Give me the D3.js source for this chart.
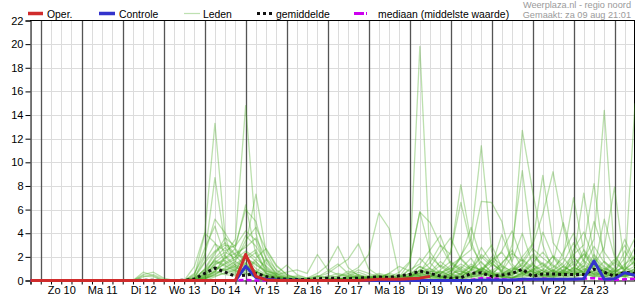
<!DOCTYPE html>
<html><head><meta charset="utf-8">
<script src="https://cdn.jsdelivr.net/npm/d3@7"></script>
<style>
html,body{margin:0;padding:0;background:#fff;}
svg{display:block;font-family:"Liberation Sans",Arial,sans-serif;}
</style></head><body>
<svg id="chart" width="635" height="300"></svg>
<script>
// ---- data ----
const startTime = "2025-08-09T18:00:00Z";
const endTime = "2025-08-24T12:00:00Z";
const stepHours = 6;
const dayLabels = ["Zo 10","Ma 11","Di 12","Wo 13","Do 14","Vr 15","Za 16","Zo 17","Ma 18","Di 19","Wo 20","Do 21","Vr 22","Za 23"];
const yTicks = [0,2,4,6,8,10,12,14,16,18,20,22];
const headerLines = ["Weerplaza.nl - regio noord","Gemaakt: za 09 aug 21:01"];
const legendLabels = ["Oper.","Controle","Leden","gemiddelde","mediaan (middelste waarde)"];

const oper = [
0,0,0,0,0,0,0,0,0,0,
0,0,0,0,0,0,0,0,0,0,
0,2.2,0.35,0.05,0,0,0,0,0,0,
0,0,0,0.05,0.1,0.1,0.1,0.15,0.2,0.35];

const controle = [
0,0,0,0,0,0,0,0,0,0,
0,0,0,0,0,0,0,0,0,0,
0,1.2,0.25,0.1,0.05,0.03,0.02,0,0,0,
0,0,0,0,0,0,0,0,0,0,
0,0,0,0,0.05,0.05,0.05,0.05,0.1,0.1,
0.1,0.1,0.1,0.1,0.15,1.65,0.1,0.15,0.65,0.45];

const gemiddelde = [
0,0,0,0,0,0,0,0,0,0,
0,0.03,0.02,0,0,0.02,0.12,0.6,1.05,0.7,
0.35,0.45,0.6,0.35,0.15,0.1,0.08,0.1,0.15,0.2,
0.2,0.15,0.2,0.25,0.3,0.25,0.4,0.5,0.8,0.6,
0.38,0.2,0.22,0.6,0.66,0.32,0.46,0.6,0.95,0.35,
0.55,0.55,0.5,0.5,0.5,0.95,0.7,0.35,0.7,0.6];

const mediaan = [
0,0,0,0,0,0,0,0,0,0,
0,0,0,0,0,0,0,0,0,0,
0,0.05,0,0,0,0,0,0,0,0,
0,0,0,0,0,0,0,0,0,0,
0,0,0,0.05,0.2,0.2,0.1,0.05,0.05,0.1,
0.15,0.1,0.1,0.1,0.15,0.2,0.1,0.05,0.1,0.15];

const leden = [
[0,0,0,0,0,0,0,0,0,0, 0,0,0,0,0,0,0.4,3.9,13.3,3.7, 1.2,0.6,0.3,0.2,0.1,0,0,0,0,0, 0,0,0,0.2,0.5,0.3,0.1,0.4,1.2,0.6, 0.3,0.8,2.1,3.5,11.4,2.5,0.6,0.2,0.4,1.0, 0.5,0.2,0.8,1.6,0.6,0.3,0.4,1.1,0.5,0.9],
[0,0,0,0,0,0,0,0,0,0, 0,0,0,0,0,0,0.2,2.0,8.7,3.0, 2.1,1.2,0.8,0.4,0.2,0.1,0,0,0,0.1, 0.2,0,0,0,0,0.1,0.3,0.6,0.4,0.2, 0.1,0.4,1.2,0.6,0.9,1.5,0.8,2.0,12.7,7.6, 3.0,0.8,0.4,0.2,0.6,0.8,0.3,0.2,0.4,0.6],
[0,0,0,0,0,0,0,0,0,0, 0,0,0,0,0,0,0,0.3,1.5,2.2, 3.5,14.8,4.0,1.0,0.4,0.2,0.1,0,0,0, 0,0,0.2,0.1,0,0,0,0.3,0.6,0.4, 0.2,0.1,0.6,1.4,0.8,0.3,0.5,1.1,0.7,0.4, 0.9,2.1,1.3,0.6,1.8,3.5,14.4,2.2,0.8,1.2],
[0,0,0,0,0,0,0,0,0,0, 0,0,0,0,0,0,0,0.1,0.8,1.5, 2.0,3.0,7.3,2.4,0.8,0.3,0.1,0,0,0, 0.1,0.3,0.2,0,0,0,0.1,0.2,0.9,0.5, 0.3,0.2,0.4,0.8,1.6,0.7,0.3,0.2,0.6,1.4, 0.5,0.3,0.9,2.0,1.1,0.5,0.7,0.3,0.8,15.0],
[0,0,0,0,0,0,0,0,0,0, 0,0,0,0,0,0,0.1,1.0,2.4,3.0, 2.8,6.4,2.2,0.9,0.3,0.1,0,0,0.1,0, 0,0.1,0.2,0.3,0.6,0.4,0.2,1.0,19.8,1.5, 0.6,0.3,0.2,0.5,1.0,0.6,0.3,0.8,1.5,0.7, 0.4,0.9,0.6,0.3,0.5,1.2,0.8,0.4,0.6,0.3],
[0,0,0,0,0,0,0,0,0,0, 0,0,0,0,0,0,0.3,1.6,3.1,2.5, 3.0,6.0,5.0,1.8,0.6,0.2,0.1,0,0,0, 0,0,0.1,0.4,0.2,0.1,0,0.2,0.5,1.0, 0.4,0.2,0.3,0.9,2.2,1.4,0.8,3.0,9.3,2.5, 1.0,0.6,0.4,0.9,2.6,1.5,0.7,0.4,0.3,0.6],
[0,0,0,0,0,0,0,0,0,0, 0,0,0,0,0,0,1.2,4.0,3.2,1.5, 0.9,1.5,0.8,0.4,0.2,0.1,0,0,0,0, 0.1,0.2,0.4,0.2,0,0,0.2,0.4,0.8,1.5, 3.0,2.2,8.1,3.3,1.1,0.6,0.3,0.2,0.7,1.3, 0.8,0.4,0.6,1.8,7.4,2.1,0.6,0.3,0.9,1.6],
[0,0,0,0,0,0,0,0,0,0, 0,0,0,0,0,0,0,0.5,1.9,2.8, 1.6,3.4,4.5,2.6,1.2,0.5,0.2,0.1,0.3,0.8, 1.4,0.6,1.1,2.2,5.7,4.4,0.4,0.2,0.1,0.3, 0.8,0.4,0.6,0.3,0.5,0.9,0.4,0.2,0.5,0.8, 0.3,0.6,1.2,2.2,3.0,8.2,1.6,0.8,0.4,0.7],
[0,0,0,0,0,0,0,0,0,0, 0,0.7,0.4,0,0,0,0.5,2.7,4.6,2.0, 1.1,0.8,0.5,0.3,0.1,0,0,0,0,0, 0,0.1,0.3,0.2,0.4,0.2,0,0.1,0.3,0.6, 1.3,0.8,1.9,2.6,6.7,6.6,5.0,1.4,0.6,0.3, 0.2,0.5,0.9,0.6,0.4,0.8,1.6,0.9,0.5,0.4],
[0,0,0,0,0,0,0,0,0,0, 0,0.4,0.3,0,0,0,0.6,2.2,5.2,4.0, 2.6,1.4,0.6,0.3,0.2,0.1,0,0.1,0,0, 0.1,0,0,0.1,0.3,0.5,0.2,0.4,0.8,0.6, 0.4,0.2,0.5,1.2,0.9,0.4,1.5,2.3,1.6,3.0, 5.6,9.2,4.6,1.2,0.6,0.3,0.8,0.5,0.3,0.2],
[0,0,0,0,0,0,0,0,0,0, 0,0,0,0,0,0,0.2,0.9,2.2,3.6, 2.9,4.2,3.4,1.1,0.4,0.2,0.3,0.1,0,0, 0,0.2,0.5,0.3,0.1,0,0,0.2,0.4,0.3, 0.2,0.6,0.8,0.4,0.3,0.6,1.2,0.8,2.0,3.1, 8.9,3.2,2.0,7.0,2.5,0.9,0.5,0.4,0.6,1.0],
[0,0,0,0,0,0,0,0,0,0, 0,0,0,0,0,0,0.1,0.6,1.8,2.4, 1.9,3.8,2.9,1.5,0.6,0.3,0.4,0.2,0.6,1.3, 2.9,1.1,0.4,0.2,0.1,0,0.1,0.3,0.5,0.8, 0.6,1.1,0.7,0.5,1.0,1.7,2.4,1.2,0.6,0.9, 1.5,0.8,0.6,1.1,0.7,1.3,2.8,7.9,1.2,0.6],
[0,0,0,0,0,0,0,0,0,0, 0,0,0,0,0,0,0,0.4,1.3,1.9, 2.3,2.8,3.6,1.9,0.9,0.4,0.2,0.1,0.3,0.6, 1.2,1.8,3.1,1.0,0.4,0.2,0.3,1.5,5.8,4.9, 3.0,1.4,0.8,0.5,0.7,0.4,0.6,1.0,0.8,0.5, 0.7,1.1,1.9,0.9,0.6,0.4,0.7,1.5,0.9,2.2],
[0,0,0,0,0,0,0,0,0,0, 0,0,0,0,0,0,0,0.2,0.9,1.4, 1.8,2.5,1.9,2.7,1.3,0.5,0.2,0.1,0,0.2, 0.4,0.6,0.3,0.2,0.1,0.3,0.7,1.6,5.8,2.4, 1.1,2.4,6.6,2.9,1.5,0.7,0.4,0.9,1.8,1.1, 0.6,0.4,0.8,1.4,2.2,1.0,0.5,0.8,1.9,3.6],
[0,0,0,0,0,0,0,0,0,0, 0,0,0,0,0,0,0,0.3,1.1,0.8, 1.4,2.0,2.6,0.8,0.5,0.7,0.9,0.6,2.2,0.9, 0.5,0.3,0.2,0.1,0.2,0.6,1.2,0.8,0.4,0.3, 0.9,1.6,1.0,0.6,0.4,1.3,2.5,4.2,1.7,0.9, 0.6,1.6,4.9,2.0,0.9,0.5,0.3,0.6,1.4,2.0],
[0,0,0,0,0,0,0,0,0,0, 0,0,0,0,0,0,0.2,1.5,2.5,3.2, 2.2,1.9,1.3,0.8,0.6,1.3,0.5,0.2,0.1,0.3, 0.6,0.4,0.2,0.3,0.1,0.2,0.5,0.3,0.6,1.1, 2.4,3.6,1.8,0.9,2.8,1.5,0.7,0.4,1.0,2.2, 1.4,0.7,0.5,2.6,4.1,1.8,0.6,0.9,0.4,0.8],
[0,0,0,0,0,0,0,0,0,0, 0,0.5,0.7,0.2,0,0,0.1,0.8,1.6,1.2, 0.8,2.4,1.6,0.7,0.3,0.1,0,0,0.2,0.4, 0.3,0.8,0.5,0.2,0.4,0.1,0,0.3,0.7,2.0, 1.2,0.6,2.0,4.5,1.8,3.0,1.1,0.6,0.8,1.5, 2.4,1.3,0.8,0.5,1.2,2.9,1.5,0.7,2.5,1.1],
[0,0,0,0,0,0,0,0,0,0, 0,0,0,0,0,0,0,0.2,0.7,1.9, 2.7,1.7,2.4,0.6,0.2,0,0.1,0.2,0.4,0.2, 0.1,0.4,0.9,0.6,0.3,0.1,0.2,0.6,1.9,1.0, 0.6,1.0,0.5,0.3,0.8,2.0,1.3,0.7,0.4,0.9, 1.2,2.0,1.1,0.8,1.5,5.0,2.4,1.2,3.5,1.5],
[0,0,0,0,0,0,0,0,0,0, 0,0,0,0,0,0,0.1,0.5,1.2,0.9, 0.6,1.2,0.8,0.3,0.1,0,0,0,0,0.1, 0,0,0.1,0,0,0,0,0.1,0.3,0.2, 0.4,0.2,0.1,0.3,0.6,0.4,0.2,0.5,0.9,0.4, 0.3,0.2,0.5,0.8,0.4,0.6,1.0,0.5,0.3,0.6],
[0,0,0,0,0,0,0,0,0,0, 0,0,0,0,0,0,0,0.3,0.8,0.5, 0.4,0.9,1.6,0.6,0.2,0.1,0,0,0,0, 0.2,0.1,0,0,0,0.1,0,0,0.2,0.5, 0.3,0.1,0.4,0.2,0.5,0.3,0.7,0.4,0.3,0.6, 0.9,0.5,0.3,0.6,1.3,0.7,0.4,0.2,0.5,0.7],
[0,0,0,0,0,0,0,0,0,0, 0,0,0,0,0,0,0,0.1,0.5,1.1, 1.6,1.1,0.7,0.4,0.2,0.1,0,0.1,0.4,0.2, 0.1,0.3,0.7,0.4,0.2,0.6,0.4,0.2,0.9,0.6, 0.5,0.8,1.4,0.9,2.0,1.2,3.9,1.6,4.0,1.4, 0.8,0.5,1.2,0.7,0.6,1.9,1.1,0.6,0.5,1.0],
[0,0,0,0,0,0,0,0,0,0, 0,0,0,0,0,0,0.1,0.4,0.7,2.1, 1.3,0.9,1.8,1.2,0.5,0.2,0.1,0,0,0, 0.2,0.1,0,0.3,0.2,0.1,0.3,0.9,1.4,2.6, 3.8,1.5,0.9,0.4,1.1,0.6,0.3,0.8,1.3,0.7, 0.4,0.8,1.5,3.2,1.6,0.5,0.9,1.8,0.7,0.4],
[0,0,0,0,0,0,0,0,0,0, 0,0,0,0,0,0,0,0.2,0.5,0.9, 1.2,2.0,1.0,0.5,0.3,0.2,0.1,0.1,0,0, 0,0.2,0.4,0.1,0,0,0.1,0.2,0.3,0.4, 0.2,0.5,0.3,0.9,0.6,0.4,0.8,0.5,1.1,2.0, 1.3,0.7,2.4,4.0,1.7,1.0,5.2,2.0,0.9,1.7],
[0,0,0,0,0,0,0,0,0,0, 0,0,0,0,0,0,0,0.1,0.6,1.0, 0.7,1.4,0.6,1.8,0.4,0.1,0,0,0,0, 0,0,0.1,0.2,0.4,0.3,0.1,0.4,0.6,0.3, 0.8,0.4,1.0,1.9,0.5,0.8,1.4,2.6,1.0,0.6, 4.1,2.0,0.7,0.5,0.9,1.3,0.8,1.6,3.0,1.3],
[0,0,0,0,0,0,0,0,0,0, 0,0,0,0,0,0,0,0.2,0.4,0.6, 0.9,0.5,0.3,0.2,0.1,0,0,0,0,0, 0,0,0,0,0.1,0,0,0.1,0.2,0.1, 0.2,0.4,0.2,0.1,0.3,0.2,0.4,0.3,0.2,0.5, 0.3,0.4,0.2,0.5,0.8,0.4,0.3,0.6,0.4,0.5],
[0,0,0,0,0,0,0,0,0,0, 0,0.3,0.5,0.1,0,0,0.1,0.6,1.4,1.7, 1.0,1.9,1.4,0.6,0.4,0.2,0.1,0,0,0.1, 0.3,0.5,0.2,0.1,0.2,0.4,0.3,0.5,1.2,0.8, 0.6,1.3,1.9,1.0,0.7,1.8,0.9,0.6,1.4,2.7, 1.9,1.2,0.6,1.0,2.3,1.4,1.0,0.7,1.2,2.8],
[0,0,0,0,0,0,0,0,0,0, 0,0,0,0,0,0,0,0,0.3,0.7, 0.5,1.0,0.7,0.4,0.1,0,0,0,0,0, 0,0,0.1,0.2,0.1,0,0,0.2,0.4,0.7, 1.6,0.9,0.5,1.2,0.8,0.5,0.3,0.7,0.5,0.3, 0.6,0.9,0.4,1.1,0.7,2.2,1.2,0.5,0.8,0.4],
[0,0,0,0,0,0,0,0,0,0, 0,0,0,0,0,0,0.2,0.9,1.7,1.3, 0.8,0.6,0.4,0.2,0.1,0,0,0,0,0, 0,0,0,0.1,0.3,0.1,0,0,0.2,0.4, 0.3,0.6,0.2,0.4,0.9,0.5,0.3,0.2,0.6,0.8, 0.5,0.3,0.7,0.4,1.0,0.6,0.3,0.8,1.1,0.5]
];

// ---- chart ----
const svg = d3.select("#chart");
const t0 = new Date(startTime), t1 = new Date(endTime);
const timeAt = i => new Date(t0.getTime() + i * stepHours * 3600e3);

const x = d3.scaleUtc().domain([t0, t1]).range([30.5, 635]);
const y = d3.scaleLinear().domain([0, 22]).range([280.5, 20.5]);

// grid
const gridTimes = d3.utcHour.every(6).range(t0, new Date(t1.getTime() + 1));
const grid = svg.append("g");
grid.selectAll("line.h").data(yTicks.filter(v => v > 0 && v < 22)).join("line")
  .attr("x1", 30.5).attr("x2", 635).attr("y1", d => Math.round(y(d)) + 0.5).attr("y2", d => Math.round(y(d)) + 0.5)
  .attr("stroke", "#dcdcdc").attr("stroke-width", 1);
grid.selectAll("line.v").data(gridTimes.filter(d => d.getUTCHours() !== 0)).join("line")
  .attr("x1", d => Math.round(x(d)) + 0.5).attr("x2", d => Math.round(x(d)) + 0.5)
  .attr("y1", 20.5).attr("y2", 280.5).attr("stroke", "#dcdcdc").attr("stroke-width", 1);
grid.selectAll("line.d").data(gridTimes.filter(d => d.getUTCHours() === 0)).join("line")
  .attr("x1", d => Math.round(x(d)) + 0.5).attr("x2", d => Math.round(x(d)) + 0.5)
  .attr("y1", 20.5).attr("y2", 280.5).attr("stroke", "#555").attr("stroke-width", 1.3);

// axes
const yAxis = svg.append("g").attr("transform", "translate(30.5,0)")
  .call(d3.axisLeft(y).tickValues(yTicks).tickSize(5).tickPadding(2).tickFormat(d3.format("d")));
yAxis.selectAll("text").attr("font-size", 11).attr("fill", "#000").attr("font-family", "Liberation Sans, Arial, sans-serif");
yAxis.selectAll("line,path").attr("stroke", "#000");

const xAxis = svg.append("g").attr("transform", "translate(0,280.5)")
  .call(d3.axisBottom(x).tickValues(gridTimes).tickSize(4).tickFormat(""));
xAxis.selectAll("line,path").attr("stroke", "#000");

const noonTimes = dayLabels.map((_, k) => timeAt(3 + 4 * k));
const xLab = svg.append("g").attr("transform", "translate(0,283)")
  .call(d3.axisBottom(x).tickValues(noonTimes).tickSize(0).tickPadding(3).tickFormat((d, k) => dayLabels[k]));
xLab.select(".domain").remove();
xLab.selectAll("text").attr("font-size", 11).attr("fill", "#000").attr("font-family", "Liberation Sans, Arial, sans-serif");

// borders
svg.append("line").attr("x1", 30).attr("x2", 635).attr("y1", 20.5).attr("y2", 20.5).attr("stroke", "#000");
svg.append("line").attr("x1", 634.5).attr("x2", 634.5).attr("y1", 20.5).attr("y2", 280.5).attr("stroke", "#000");

// lines
const line = d3.line().x((d, i) => x(timeAt(i))).y(d => y(d));

svg.append("g").selectAll("path").data(leden).join("path")
  .attr("d", line).attr("fill", "none")
  .attr("stroke", "#45a81f").attr("stroke-opacity", 0.36).attr("stroke-width", 1.3)
  .attr("stroke-linejoin", "round");

svg.append("path").attr("d", line(gemiddelde)).attr("fill", "none")
  .attr("stroke", "#111").attr("stroke-width", 3).attr("stroke-dasharray", "3,3");
svg.append("path").attr("d", line(mediaan)).attr("fill", "none")
  .attr("stroke", "#cc00ee").attr("stroke-width", 2.5).attr("stroke-dasharray", "5,3");
svg.append("path").attr("d", line(controle)).attr("fill", "none")
  .attr("stroke", "#3333cc").attr("stroke-width", 3).attr("stroke-linejoin", "round");
svg.append("path").attr("d", line(oper)).attr("fill", "none")
  .attr("stroke", "#d02c2c").attr("stroke-width", 3).attr("stroke-linejoin", "round");

// legend
const lg = svg.append("g").attr("font-size", 10.4).attr("fill", "#000");
const items = [
  {x: 28, w: 15, stroke: "#d02c2c", sw: 3.5, dash: null, op: 1, tx: 47},
  {x: 99, w: 16, stroke: "#3333cc", sw: 3.5, dash: null, op: 1, tx: 119},
  {x: 184, w: 16, stroke: "#45a81f", sw: 1.2, dash: null, op: 0.35, tx: 203},
  {x: 257, w: 15, stroke: "#111", sw: 3, dash: "3,3", op: 1, tx: 276},
  {x: 354, w: 14, stroke: "#cc00ee", sw: 3, dash: "10,2,1,2", op: 1, tx: 378}
];
items.forEach((it, k) => {
  lg.append("line").attr("x1", it.x).attr("x2", it.x + it.w).attr("y1", 13.5).attr("y2", 13.5)
    .attr("stroke", it.stroke).attr("stroke-width", it.sw).attr("stroke-opacity", it.op)
    .attr("stroke-dasharray", it.dash);
  lg.append("text").attr("x", it.tx).attr("y", 17.5).text(legendLabels[k]);
});

// header
svg.append("g").attr("font-size", 9.2).attr("fill", "#9a9a9a").attr("text-anchor", "end")
  .selectAll("text").data(headerLines).join("text")
  .attr("x", 631).attr("y", (d, i) => 8 + i * 10).text(d => d);
</script>
</body></html>
